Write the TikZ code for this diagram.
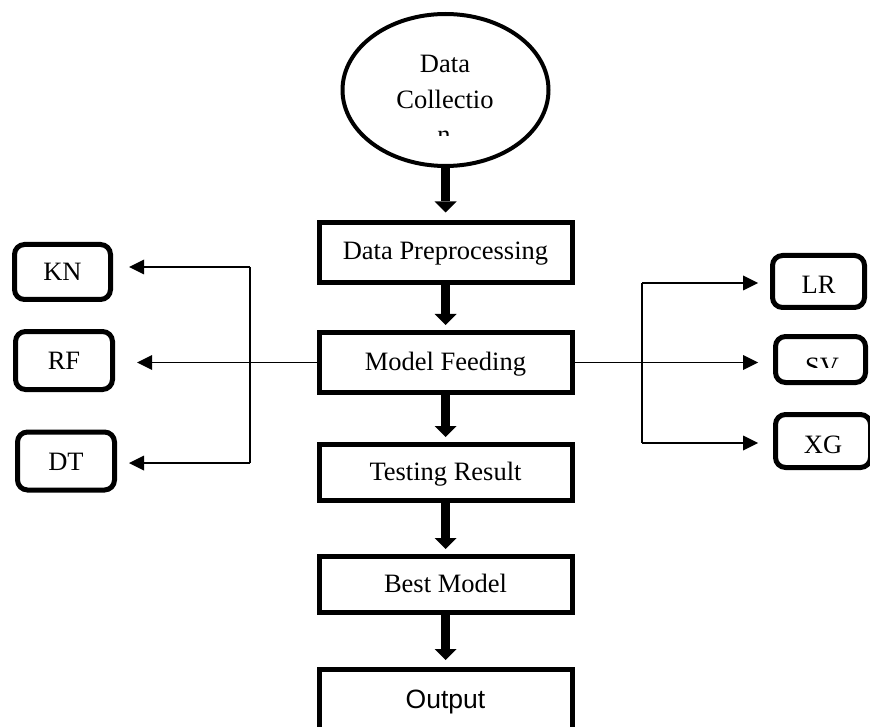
\documentclass[tikz,border=0pt]{standalone}
\usepackage{fontspec}
\setmainfont{Liberation Serif}
\newfontfamily\arialfont{Liberation Sans}
\usetikzlibrary{arrows.meta,shapes.geometric}
\begin{document}
\begin{tikzpicture}[x=1pt,y=-1pt,
  every node/.style={font=\fontsize{26.5}{32}\selectfont, inner sep=0pt},
  mainbox/.style={draw, line width=5pt, minimum width=253pt, minimum height=60pt, text height=21pt, text depth=6pt},
  sidebox/.style={draw, line width=5pt, rounded corners=10pt, text height=23pt, text depth=5pt},
  bigarrow/.style={line width=9pt, -{Triangle[width=22pt,length=11pt,line width=0pt]}, shorten >=5pt},
  conn/.style={line width=1.5pt, -{Triangle[width=15pt,length=15pt,line width=0pt]}},
  plainline/.style={line width=1.5pt}
]
\clip (0,0) rectangle (870,727);

% Data collection ellipse
\node[ellipse, draw, line width=4pt, minimum width=206pt, minimum height=152pt] (dc) at (445.5,90) {};
\node[anchor=base] (dct1) at (445,73) {Data};
\node[anchor=base] (dct2) at (445,109) {Collectio};
\begin{scope}
  \clip (0,0) rectangle (870,135.5);
  \node[anchor=base] (dct3) at (444,144) {n};
\end{scope}

% main column
\node[mainbox] (pre) at (445.5,252.5) {Data Preprocessing};
\node[mainbox] (mf) at (445.5,362.5) {Model Feeding};
\node[mainbox, minimum height=56pt] (tr) at (445.5,472.5) {Testing Result};
\node[mainbox, minimum height=56pt] (bm) at (445.5,584.5) {Best Model};
\node[mainbox, minimum height=73pt, text height=19pt, text depth=15pt,
      font=\arialfont\fontsize{26.5}{32}\selectfont] (out) at (445.5,706) {Output};

\draw[bigarrow, shorten >=7.5pt] (dc.south) -- (dc.south |- pre.north);
\draw[bigarrow] (pre.south) -- (pre.south |- mf.north);
\draw[bigarrow] (mf.south) -- (mf.south |- tr.north);
\draw[bigarrow] (tr.south) -- (tr.south |- bm.north);
\draw[bigarrow, shorten >=7pt] (bm.south) -- (bm.south |- out.north);

% left models
\node[sidebox, minimum width=96pt, minimum height=55pt] (kn) at (62.5,272) {KN};
\node[sidebox, minimum width=97pt, minimum height=58pt] (rf) at (64,360.5) {RF};
\node[sidebox, minimum width=97pt, minimum height=58pt] (dt) at (66,461) {DT};

% right models
\node[sidebox, minimum width=92pt, minimum height=52pt, text height=27pt, text depth=3pt] (lr) at (818.5,281.5) {LR};
\node[sidebox, minimum width=90pt, minimum height=46pt] (sv) at (820.5,359.5) {};
\begin{scope}
  \clip (0,0) rectangle (870,367);
  \node[anchor=base] (svt) at (822,375.5) {SV};
\end{scope}
\node[sidebox, minimum width=95pt, minimum height=53pt, text height=27pt, text depth=3pt] (xg) at (823,441) {XG};

% left connectors
\coordinate (lt) at (250,267);
\coordinate (lb) at (250,463);
\draw[plainline] (lt) -- (lb);
\draw[conn, shorten >=16pt] (lt) -- (kn.east |- lt);
\draw[conn, shorten >=12pt] (lb) -- (dt.east |- lb);
\draw[conn, shorten >=22pt] (mf.west) -- (rf.east |- mf.west);

% right connectors
\coordinate (rt) at (642,283);
\coordinate (rb) at (642,443);
\draw[plainline] (rt) -- (rb);
\draw[conn, shorten >=12pt] (rt) -- (lr.west |- rt);
\draw[conn, shorten >=15pt] (mf.east) -- (sv.west |- mf.east);
\draw[conn, shorten >=15pt] (rb) -- (xg.west |- rb);
\end{tikzpicture}
\end{document}
